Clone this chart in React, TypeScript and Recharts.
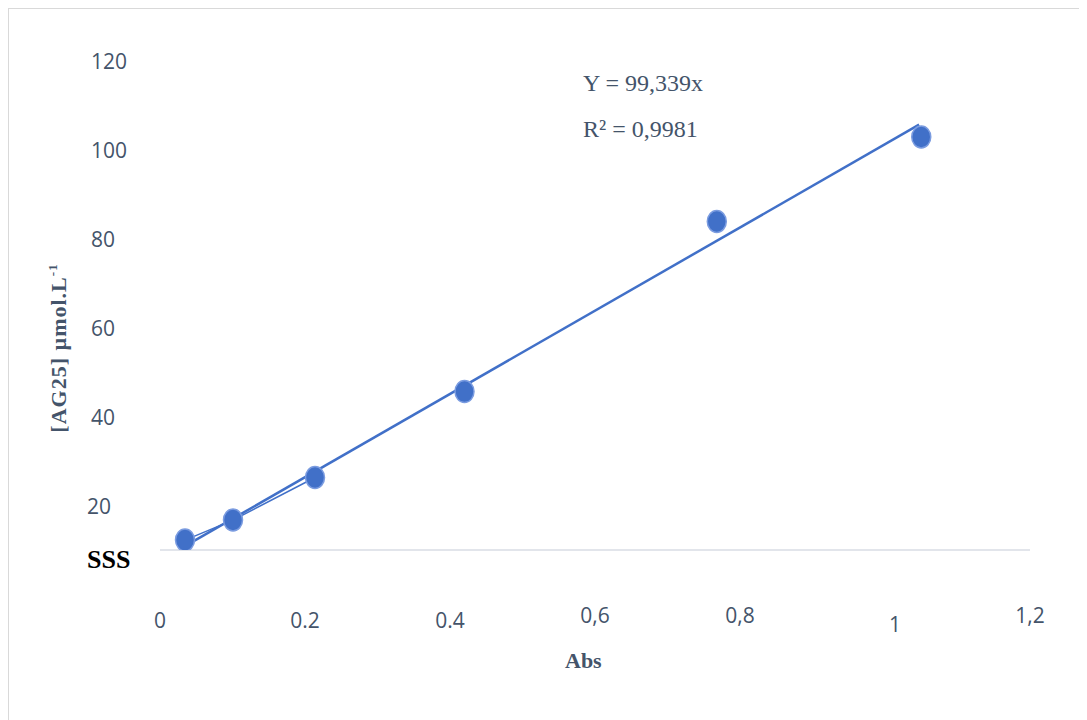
import React from 'react';
import { ScatterChart, Scatter, XAxis, YAxis } from 'recharts';

// absorbance vs concentration
const absValues = [0.0345, 0.1007, 0.2138, 0.42, 0.768, 1.05];
const concValues = [4.87, 9.64, 19.8, 40.3, 80.9, 101.05];

// fitted line Y = 99,339x drawn between the first and last point
const trendAbs = [0.032, 1.047];
const trendConc = [3.18, 104.0];

const xTicks = [0, 0.2, 0.4, 0.6, 0.8, 1, 1.2];
const xTickLabels = ['0', '0.2', '0.4', '0,6', '0,8', '1', '1,2'];
const yTicks = [20, 40, 60, 80, 100, 120];
const yTickLabels = ['20', '40', '60', '80', '100', '120'];

const points = absValues.map((abs, i) => ({ abs, conc: concValues[i] }));
const lowPoints = points.slice(0, 3);
const trend = trendAbs.map((abs, i) => ({ abs, conc: trendConc[i] }));

const BLUE = '#4170c8';
const SLATE = '#44546a';
const SERIF = '"Liberation Serif", "Times New Roman", serif';
const SANS = '"Open Sans", "Noto Sans", sans-serif';

const Dot = (props: any) => (
  <ellipse cx={props.cx} cy={props.cy} rx={9.5} ry={11} fill={BLUE} stroke="#7b9ce0" strokeWidth={1.5} />
);
const NoDot = () => <g />;

const XTick = (props: any) => {
  const i = xTicks.indexOf(props.payload.value);
  const label = xTickLabels[i] ?? String(props.payload.value);
  // the source nudges a few labels: commas sit higher, the "1" lower and to the right
  const dy = label.includes(',') ? -5 : label === '1' ? 4 : 0;
  const dx = label === '1' ? 10 : 0;
  return (
    <text x={props.x + dx} y={611 + dy} textAnchor="middle" dominantBaseline="central"
      fill={SLATE} fontSize={21} fontFamily={SANS}>
      {label}
    </text>
  );
};

const YTick = (props: any) => {
  const i = yTicks.indexOf(props.payload.value);
  const label = yTickLabels[i] ?? String(props.payload.value);
  return (
    <text x={label === '20' ? 78 : 82} y={props.y} textAnchor="start" dominantBaseline="central"
      fill={SLATE} fontSize={21} fontFamily={SANS}>
      {label}
    </text>
  );
};

export default function App() {
  return (
    <div style={{ position: 'relative', width: 1078, height: 711, borderTop: '1px solid #d9d9d9', borderLeft: '1px solid #d9d9d9', background: '#fff' }}>
      <ScatterChart width={1078} height={711} margin={{ top: 31, right: 57, bottom: 70, left: 0 }}>
        <XAxis type="number" dataKey="abs" domain={[0, 1.2]} ticks={xTicks} allowDataOverflow
          height={100} tickLine={false} axisLine={{ stroke: '#d9dde4', strokeWidth: 1.5 }} tick={<XTick />} />
        <YAxis yAxisId="labels" type="number" orientation="left" width={151} domain={[10, 124.8]}
          ticks={yTicks} allowDataOverflow axisLine={false} tickLine={false} tick={<YTick />} />
        <YAxis yAxisId="data" type="number" dataKey="conc" domain={[2.5, 124.2]} allowDataOverflow hide />
        <Scatter yAxisId="data" data={lowPoints} line={{ stroke: BLUE, strokeWidth: 1.5 }} shape={<NoDot />} isAnimationActive={false} />
        <Scatter yAxisId="data" data={trend} line={{ stroke: BLUE, strokeWidth: 2.5 }} shape={<NoDot />} isAnimationActive={false} />
        <Scatter yAxisId="data" data={points} shape={<Dot />} isAnimationActive={false} />
      </ScatterChart>

      <div style={{ position: 'absolute', left: 574, top: 62, fontFamily: SERIF, fontSize: 24, lineHeight: 1, color: SLATE, whiteSpace: 'nowrap' }}>
        Y = 99,339x
      </div>
      <div style={{ position: 'absolute', left: 574, top: 108, fontFamily: SERIF, fontSize: 24, lineHeight: 1, color: SLATE, whiteSpace: 'nowrap' }}>
        R² = 0,9981
      </div>
      <div style={{ position: 'absolute', left: 78, top: 538, fontFamily: SERIF, fontSize: 26, fontWeight: 'bold', lineHeight: 1, color: '#000', whiteSpace: 'nowrap' }}>
        SSS
      </div>
      <div style={{ position: 'absolute', left: 556, top: 640.6, fontFamily: SERIF, fontSize: 22, fontWeight: 'bold', lineHeight: 1, color: SLATE, whiteSpace: 'nowrap' }}>
        Abs
      </div>
      <div style={{ position: 'absolute', left: 49, top: 339, transform: 'translate(-50%, -50%) rotate(-90deg)', fontFamily: SERIF, fontSize: 22, fontWeight: 'bold', letterSpacing: 1, lineHeight: 1, color: SLATE, whiteSpace: 'nowrap' }}>
        [AG25] µmol.L<sup style={{ fontSize: 13 }}>-1</sup>
      </div>
    </div>
  );
}
